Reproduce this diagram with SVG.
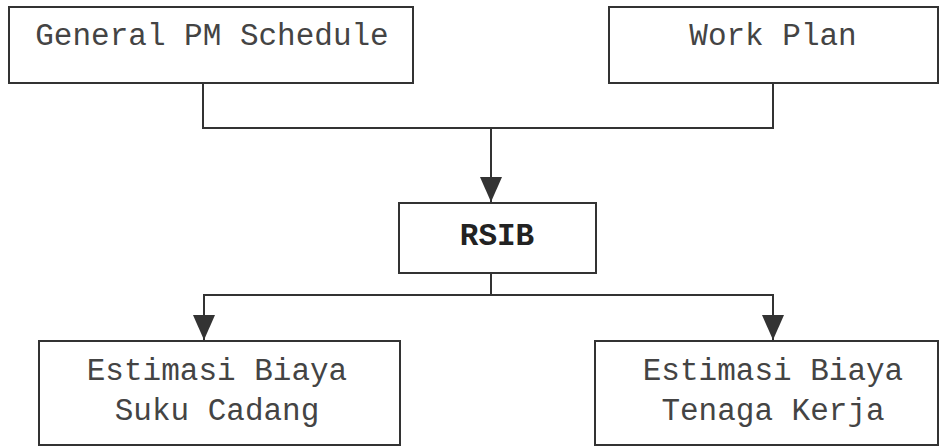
<svg xmlns="http://www.w3.org/2000/svg" width="946" height="447" viewBox="0 0 946 447">
  <style>
    .box { fill: #ffffff; stroke: #333333; stroke-width: 2; }
    .lbl { font-family: "Courier New", "Liberation Mono", monospace; font-size: 31px; fill: #444444; text-anchor: middle; }
    .bold { font-weight: bold; fill: #222222; }
    .wire { fill: none; stroke: #333333; stroke-width: 2; }
  </style>
  <defs>
    <!-- solid triangular head; drawn along +x so orient="auto" turns it down the line -->
    <marker id="arrow" markerUnits="userSpaceOnUse" markerWidth="26" markerHeight="22" viewBox="0 0 26 22" refX="25" refY="11" orient="auto">
      <path d="M0,0 L25,11 L0,22 Z" fill="#333333"/>
    </marker>
  </defs>
  <rect width="946" height="447" fill="#ffffff"/>

  <g id="connectors">
    <path class="wire" d="M203,83 V128 H773 V83"/>
    <path class="wire" d="M491,128 V202" marker-end="url(#arrow)"/>
    <path class="wire" d="M491,273 V295 H204 V340" marker-end="url(#arrow)"/>
    <path class="wire" d="M491,295 H773 V340" marker-end="url(#arrow)"/>
  </g>

  <g id="general-pm-schedule">
    <rect class="box" x="9" y="7" width="404" height="76"/>
    <text class="lbl" x="212" y="45">General PM Schedule</text>
  </g>

  <g id="work-plan">
    <rect class="box" x="609" y="7" width="329" height="76"/>
    <text class="lbl" x="773" y="45">Work Plan</text>
  </g>

  <g id="rsib">
    <rect class="box" x="399" y="203" width="197" height="70"/>
    <text class="lbl bold" x="497" y="245">RSIB</text>
  </g>

  <g id="estimasi-suku-cadang">
    <rect class="box" x="39" y="341" width="361" height="104"/>
    <text class="lbl" x="217" y="380">Estimasi Biaya</text>
    <text class="lbl" x="217" y="420">Suku Cadang</text>
  </g>

  <g id="estimasi-tenaga-kerja">
    <rect class="box" x="595" y="341" width="343" height="104"/>
    <text class="lbl" x="773" y="380">Estimasi Biaya</text>
    <text class="lbl" x="773" y="420">Tenaga Kerja</text>
  </g>
</svg>
